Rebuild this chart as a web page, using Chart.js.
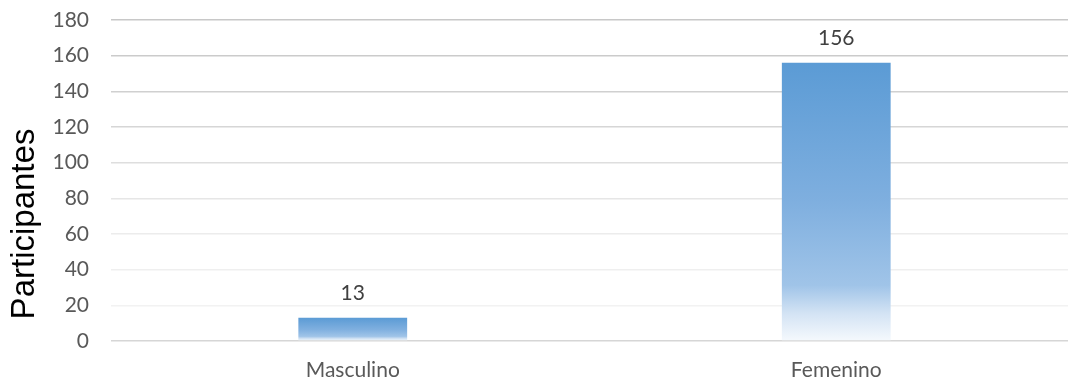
<!DOCTYPE html>
<html>
<head>
<meta charset="utf-8">
<script src="https://cdn.jsdelivr.net/npm/chart.js@4"></script>
<style>
  html, body { margin: 0; padding: 0; background: #fff; overflow: hidden; }
  /* plot runs slightly past the right edge of the window */
  #wrap { width: 1078px; height: 381px; }
</style>
</head>
<body>
<div id="wrap"><canvas id="myChart"></canvas></div>
<script>
const categories = ['Masculino', 'Femenino'];
const participantes = [13, 156];
const yTicks = [0, 20, 40, 60, 80, 100, 120, 140, 160, 180];
const yTitle = 'Participantes';

const tickFont = 'Lato, "Liberation Sans", sans-serif';

// vertical gradient per bar: blue on top fading to white at the base
function barGradient(context) {
  const chart = context.chart;
  const y = chart.scales.y;
  if (!chart.chartArea || !y) return '#5b9bd5';
  const v = participantes[context.dataIndex];
  const top = y.getPixelForValue(v);
  const bottom = y.getPixelForValue(0);
  const g = chart.ctx.createLinearGradient(0, top, 0, bottom);
  g.addColorStop(0, '#5b9bd5');
  g.addColorStop(0.5, '#7fafdf');
  g.addColorStop(0.8, '#a0c4e8');
  g.addColorStop(0.9, '#d3e3f4');
  g.addColorStop(1, '#f5f9fd');
  return g;
}

// value labels above bars
const valueLabels = {
  id: 'valueLabels',
  afterDatasetsDraw(chart) {
    const ctx = chart.ctx;
    const meta = chart.getDatasetMeta(0);
    ctx.save();
    ctx.font = '21px ' + tickFont;
    ctx.fillStyle = '#404040';
    ctx.textAlign = 'center';
    ctx.textBaseline = 'middle';
    meta.data.forEach((bar, i) => {
      ctx.fillText(participantes[i], bar.x, bar.y - 25);
    });
    ctx.restore();
  }
};

// rotated axis title, sitting a bit below the middle of the plot
const sideTitle = {
  id: 'sideTitle',
  afterDraw(chart) {
    const ctx = chart.ctx;
    ctx.save();
    ctx.translate(25, 224);
    ctx.rotate(-Math.PI / 2);
    ctx.font = '33px "Liberation Sans", Arial, sans-serif';
    ctx.fillStyle = '#000';
    ctx.textAlign = 'center';
    ctx.textBaseline = 'middle';
    ctx.fillText(yTitle, 0, 0);
    ctx.restore();
  }
};

const config = {
  type: 'bar',
  data: {
    labels: categories,
    datasets: [{
      label: yTitle,
      data: participantes,
      backgroundColor: barGradient,
      borderWidth: 0,
      barPercentage: 0.225,
      categoryPercentage: 1
    }]
  },
  options: {
    responsive: true,
    maintainAspectRatio: false,
    animation: false,
    layout: { padding: { left: 54, right: 0, top: 20, bottom: 0 } },
    plugins: {
      legend: { display: false },
      tooltip: { enabled: false }
    },
    scales: {
      x: {
        grid: { display: false, drawTicks: false },
        border: { display: false },
        ticks: {
          color: '#595959',
          font: { family: tickFont, size: 21 },
          padding: 17
        },
        afterFit: (s) => { s.height = 40; s.paddingLeft = 0; s.paddingRight = 0; }
      },
      y: {
        min: 0,
        max: 180,
        afterBuildTicks: (axis) => { axis.ticks = yTicks.map(v => ({ value: v })); },
        afterFit: (s) => { s.width = 57; s.paddingTop = 0; s.paddingBottom = 0; },
        border: { display: false },
        grid: {
          drawTicks: false,
          lineWidth: 1.5,
          color: (c) => {
            const v = c.tick ? c.tick.value : 0;
            if (v === 0) return '#d6d6d6';
            const shades = { 20: '#f2f2f2', 40: '#efefef', 60: '#ececec', 80: '#e6e6e6',
              100: '#dedede', 120: '#d6d6d6', 140: '#d0d0d0', 160: '#cbcbcb', 180: '#c8c8c8' };
            return shades[v] || '#d9d9d9';
          }
        },
        ticks: {
          color: '#595959',
          font: { family: tickFont, size: 21 },
          padding: 22
        }
      }
    }
  },
  plugins: [valueLabels, sideTitle]
};

document.addEventListener('DOMContentLoaded', () => {
  new Chart(document.getElementById('myChart'), config);
});
</script>
</body>
</html>
